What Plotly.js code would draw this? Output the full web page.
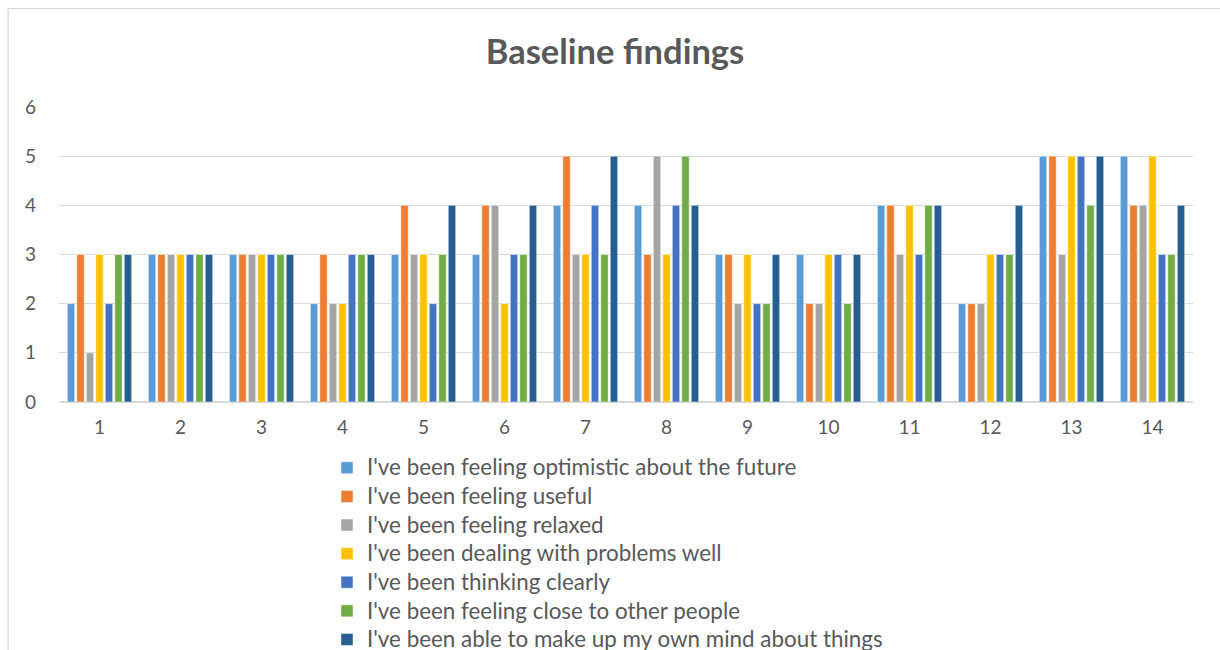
<!DOCTYPE html>
<html>
<head>
<meta charset="utf-8">
<script src="https://cdn.plot.ly/plotly-3.0.1.min.js"></script>
<style>html,body{margin:0;padding:0;background:#fff;}#chart{width:1220px;height:650px;}</style>
</head>
<body>
<div id="chart"></div>
<script>
const categories = ["1","2","3","4","5","6","7","8","9","10","11","12","13","14"];
const seriesNames = [
  "I've been feeling optimistic about the future",
  "I've been feeling useful",
  "I've been feeling relaxed",
  "I've been dealing with problems well",
  "I've been thinking clearly",
  "I've been feeling close to other people",
  "I've been able to make up my own mind about things"
];
const optimistic = [2,3,3,2,3,3,4,4,3,3,4,2,5,5];
const useful     = [3,3,3,3,4,4,5,3,3,2,4,2,5,4];
const relaxed    = [1,3,3,2,3,4,3,5,2,2,3,2,3,4];
const problems   = [3,3,3,2,3,2,3,3,3,3,4,3,5,5];
const thinking   = [2,3,3,3,2,3,4,4,2,3,3,3,5,3];
const close      = [3,3,3,3,3,3,3,5,2,2,4,3,4,3];
const ownMind    = [3,3,3,3,4,4,5,4,3,3,4,4,5,4];
const colors = ["#5B9BD5","#ED7D31","#A5A5A5","#FFC000","#4472C4","#70AD47","#255E91"];

const allSeries = [optimistic, useful, relaxed, problems, thinking, close, ownMind];
const FONT = "Lato, 'Open Sans', sans-serif";
const traces = allSeries.map((vals, i) => ({
  type: "bar",
  name: '<span style="font-size:22.4px">' + seriesNames[i] + '</span>',
  x: categories,
  y: vals,
  marker: {color: colors[i], line: {color: "rgba(255,255,255,0.6)", width: 0.8}},
  hoverinfo: "none"
}));

const W = 1220, H = 650;
const ml = 58.5, mr = 26.5, mb = 247.5;
const yTop = 6.02;
const unit = (403 - 107) / 6;
const mt = 107 - (yTop - 6) * unit;
const pw = W - ml - mr, ph = H - mt - mb;

const layout = {
  width: W, height: H,
  margin: {l: ml, r: mr, t: mt, b: mb, pad: 0, autoexpand: false},
  paper_bgcolor: "#fff", plot_bgcolor: "#fff",
  font: {family: FONT, color: "#595959", size: 19},
  title: {text: "<b>Baseline findings</b>", font: {family: FONT, size: 34.5, color: "#595959"},
          x: 615/W, xanchor: "center", xref: "container", y: 1 - 52/H, yanchor: "middle", yref: "container"},
  barmode: "group",
  bargap: 0.18,
  bargroupgap: 0.22,
  showlegend: true,
  legend: {
    orientation: "v", traceorder: "normal",
    xref: "container", yref: "container",
    x: 327/W, xanchor: "left", y: 1 - 448.5/H, yanchor: "top",
    font: {family: FONT, size: 19.7, color: "#595959"},
    bgcolor: "rgba(0,0,0,0)", borderwidth: 0,
    itemclick: false
  },
  xaxis: {
    type: "category", showgrid: false, zeroline: false, showline: false,
    ticks: "", tickfont: {size: 19, color: "#595959", family: FONT}, ticklabelstandoff: 12
  },
  yaxis: {
    range: [0, yTop], dtick: 1, tick0: 0, showgrid: true, gridcolor: "#D9D9D9", gridwidth: 1.3,
    zeroline: true, zerolinecolor: "#D9D9D9", zerolinewidth: 1.3, showline: false, ticks: "",
    tickfont: {size: 19, color: "#595959", family: FONT}, ticklabelstandoff: 22, fixedrange: true
  },
  shapes: [{
    type: "rect", xref: "paper", yref: "paper",
    x0: (7.5 - ml)/pw, x1: (1240 - ml)/pw,
    y0: (H - mb - 700)/ph, y1: (H - mb - 8.5)/ph,
    line: {color: "#D9D9D9", width: 1.3}, fillcolor: "rgba(0,0,0,0)", layer: "below"
  }]
};

Plotly.newPlot("chart", traces, layout, {displayModeBar: false, staticPlot: true});
</script>
</body>
</html>
